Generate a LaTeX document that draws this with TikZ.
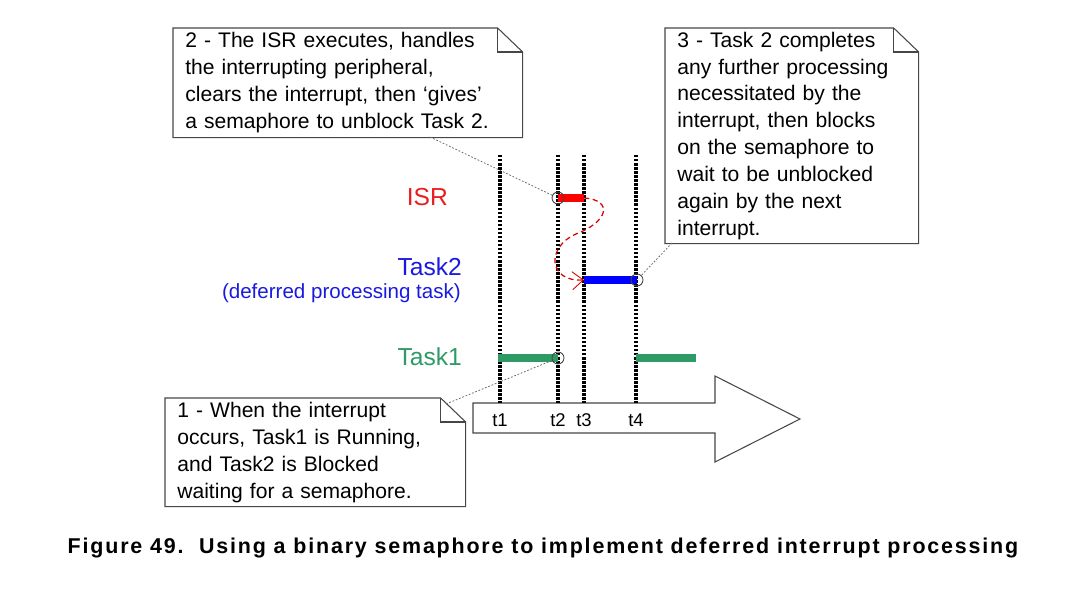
\documentclass[tikz,border=0pt]{standalone}
\usepackage{fontspec}
\setmainfont{Liberation Sans}
\newfontfamily\captionfont[LetterSpace=8.5]{Liberation Sans}
\usetikzlibrary{arrows.meta, positioning, calc}
\definecolor{isrred}{RGB}{232,30,30}
\definecolor{taskblue}{RGB}{25,25,225}
\definecolor{taskgreen}{RGB}{46,155,102}
\definecolor{noteline}{RGB}{70,70,70}

\begin{document}
\begin{tikzpicture}[
    x=0.02cm, y=-0.02cm,
    notebox/.style={draw=noteline, line width=0.6pt},
    note/.style={anchor=north west, inner xsep=0.24cm, inner ysep=0pt, align=left, font=\fontsize{12}{15.3}\selectfont},
    tline/.style={line width=2pt, dash pattern=on 1.4pt off 0.9pt},
    bar/.style={line width=5pt},
    ring/.style={circle, draw=noteline, line width=0.5pt, minimum size=0.24cm, inner sep=0pt},
    leader/.style={draw=noteline!80, line width=0.45pt, dash pattern=on 1pt off 1pt},
    lane/.style={anchor=east, font=\fontsize{14}{16}\selectfont},
    tick/.style={font=\fontsize{10.5}{12}\selectfont},
]
\useasboundingbox (0,0) rectangle (1080,614);

\node[note, minimum width=6.98cm, minimum height=2.18cm, text width=6.5cm] (note2) at (173,28)
    {2 - The ISR executes, handles\\the interrupting peripheral,\\clears the interrupt, then ‘gives’\\a semaphore to unblock Task 2.};
\node[note, minimum width=5.06cm, minimum height=4.3cm, text width=4.58cm] (note3) at (665,28)
    {3 - Task 2 completes\\any further processing\\necessitated by the\\interrupt, then blocks\\on the semaphore to\\wait to be unblocked\\again by the next\\interrupt.};
\node[note, minimum width=6cm, minimum height=2.16cm, text width=5.52cm] (note1) at (165,398)
    {1 - When the interrupt\\occurs, Task1 is Running,\\and Task2 is Blocked\\waiting for a semaphore.};
\foreach \n in {note1,note2,note3} {
  \draw[notebox] (\n.north west) -- ([xshift=-0.5cm]\n.north east) -- ([yshift=-0.48cm]\n.north east) |- (\n.south west) -- cycle;
  \draw[notebox] ([xshift=-0.5cm]\n.north east) |- ([yshift=-0.48cm]\n.north east);
}

\draw[notebox, fill=white] (473,403) -- (715,403) -- (715,376) -- (800,419) -- (715,462) -- (715,433) -- (473,433) -- cycle;

\foreach \i/\x in {1/500, 2/558, 3/584, 4/636} {
  \coordinate (top\i) at (\x,155);
  \coordinate (bot\i) at (\x,403);
  \node[tick] (t\i) at (\x,420) {t\i};
  \draw[tline] (top\i) -- (bot\i);
}

\node[lane, text=isrred] (isr) at (454,197) {ISR};
\node[lane, text=taskblue] (task2) at (468,267) {Task2};
\node[lane, text=taskblue, font=\fontsize{11.7}{14}\selectfont] (task2sub) at (467,293) {(deferred processing task)};
\node[lane, text=taskgreen] (task1) at (468,357) {Task1};

\coordinate (isrA) at (558,198);
\coordinate (isrB) at (584,198);
\coordinate (tskA) at (584,280);
\coordinate (tskB) at (637,280);
\coordinate (runA) at (498,358);
\coordinate (runB) at (558,358);
\coordinate (runC) at (636,358);
\coordinate (runD) at (696,358);

\draw[bar, red] (isrA) -- (isrB);
\draw[bar, blue] (tskA) -- (tskB);
\draw[bar, taskgreen] (runA) -- (runB);
\draw[bar, taskgreen] (runC) -- (runD);

\node[ring] (give) at (isrA) {};
\node[ring] (block) at (tskB) {};
\node[ring] (irq) at (runB) {};

\draw[red!85!black, line width=0.7pt, dash pattern=on 3pt off 2pt, -{Straight Barb[length=2.2mm, width=3.6mm, line width=0.5pt]}]
    (isrB) .. controls (614,200) and (608,222) .. (576,234) .. controls (546,247) and (548,282) .. (tskA);

\coordinate (lead2) at (430,137);
\coordinate (lead3) at (672,243);
\coordinate (lead1) at (446,404);
\draw[leader] (lead2) -- (give);
\draw[leader] (lead3) -- (block);
\draw[leader] (lead1) -- (irq);

\node[font=\captionfont\bfseries\fontsize{12.2}{14}\selectfont] (caption) at (543,548) {Figure 49.\ \ Using a binary semaphore to implement deferred interrupt processing};
\end{tikzpicture}
\end{document}
